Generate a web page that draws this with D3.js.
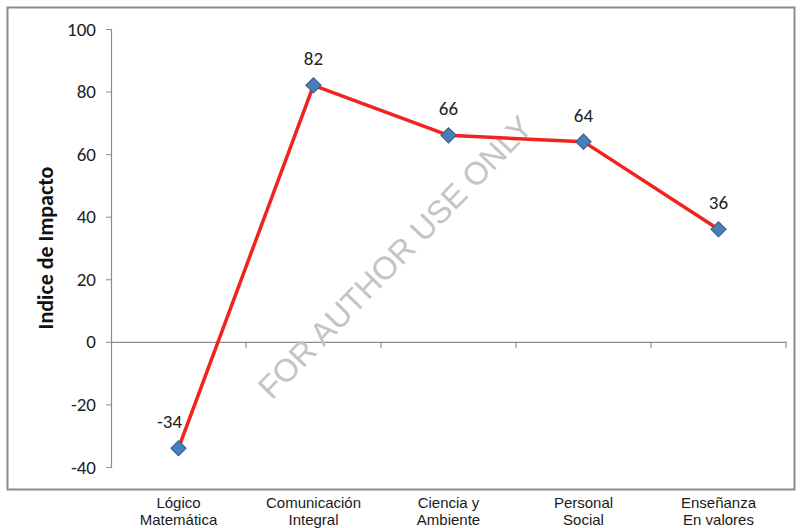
<!DOCTYPE html>
<html>
<head>
<meta charset="utf-8">
<script src="https://cdn.jsdelivr.net/npm/d3@7"></script>
<style>
  body { margin: 0; background: #fff; }
  svg { display: block; }
</style>
</head>
<body>
<svg id="chart" width="800" height="528"></svg>
<script>
// Impact index per learning area
const categories = [
  ["Lógico", "Matemática"],
  ["Comunicación", "Integral"],
  ["Ciencia y", "Ambiente"],
  ["Personal", "Social"],
  ["Enseñanza", "En valores"]
];
const values = [-34, 82, 66, 64, 36];
const yTicks = [-40, -20, 0, 20, 40, 60, 80, 100];
const yTitle = "Indice de Impacto";
const watermark = "FOR AUTHOR USE ONLY";

const svg = d3.select("#chart");
const plot = { left: 111, right: 786, top: 29, bottom: 467 };
const numFont = "Carlito, Calibri, Lato, sans-serif";

const keys = categories.map((c, i) => i);
const x = d3.scaleBand().domain(keys).range([plot.left, plot.right]).padding(0);
const y = d3.scaleLinear().domain([-40, 100]).range([plot.bottom, plot.top]);

// outer frame
svg.append("rect")
  .attr("x", 7.5).attr("y", 7.5)
  .attr("width", 787).attr("height", 482)
  .attr("fill", "none").attr("stroke", "#8c8c8c").attr("stroke-width", 2);

// y axis (plain hyphen for negatives)
const yAxis = d3.axisLeft(y).tickValues(yTicks).tickFormat(d => String(d))
  .tickSize(5).tickPadding(10);
const gy = svg.append("g").attr("transform", `translate(${plot.left},0)`).call(yAxis);
gy.select(".domain").attr("stroke", "#8c8c8c").attr("stroke-width", 1.2);
gy.selectAll(".tick line").attr("stroke", "#8c8c8c");
gy.selectAll(".tick text")
  .attr("font-family", numFont)
  .attr("font-size", 19).attr("fill", "#222");

// x axis along zero
const xAxis = d3.axisBottom(x).tickSize(0).tickFormat("");
const gx = svg.append("g").attr("transform", `translate(0,${y(0)})`).call(xAxis);
gx.select(".domain").attr("stroke", "#8c8c8c").attr("stroke-width", 1.2);
const bounds = keys.map(k => x(k) + x.bandwidth());
gx.selectAll(".bound").data(bounds).enter().append("line")
  .attr("x1", d => d).attr("x2", d => d)
  .attr("y1", 0).attr("y2", 6)
  .attr("stroke", "#8c8c8c").attr("stroke-width", 1.2);

// category labels under the frame
const catG = svg.append("g")
  .attr("font-family", "'Liberation Sans', Arial, sans-serif")
  .attr("font-size", 15).attr("fill", "#1a1a1a").attr("text-anchor", "middle");
categories.forEach((lines, i) => {
  const cx = x(i) + x.bandwidth() / 2;
  lines.forEach((t, j) => {
    catG.append("text").attr("x", cx).attr("y", 508 + j * 17).text(t);
  });
});

// y axis title
svg.append("text")
  .attr("transform", `translate(53,248) rotate(-90)`)
  .attr("text-anchor", "middle")
  .attr("font-family", numFont)
  .attr("font-weight", "bold").attr("font-size", 22).attr("fill", "#111")
  .text(yTitle);

// watermark
svg.append("text")
  .attr("transform", "translate(397,259) rotate(-46)")
  .attr("text-anchor", "middle").attr("dominant-baseline", "middle")
  .attr("font-family", "'Liberation Sans', Arial, sans-serif")
  .attr("font-size", 32).attr("fill", "#c4c4c4")
  .text(watermark);

// line series
const cx = i => x(i) + x.bandwidth() / 2;
const line = d3.line().x((d, i) => cx(i)).y(d => y(d));
svg.append("path").datum(values)
  .attr("d", line)
  .attr("fill", "none").attr("stroke", "#f0241c").attr("stroke-width", 3.5)
  .attr("stroke-linejoin", "round");

// diamond markers
const diamond = d3.symbol().type(d3.symbolSquare).size(115);
svg.selectAll(".pt").data(values).enter().append("path")
  .attr("d", diamond)
  .attr("transform", (d, i) => `translate(${cx(i)},${y(d)}) rotate(45)`)
  .attr("fill", "#4a7ebb").attr("stroke", "#2f5a8c").attr("stroke-width", 1);

// value labels (the negative one sits up and to the left of its point)
svg.selectAll(".lbl").data(values).enter().append("text")
  .attr("x", (d, i) => cx(i) + (d < 0 ? -9 : 0))
  .attr("y", d => y(d) - 20)
  .attr("text-anchor", "middle")
  .attr("font-family", numFont)
  .attr("font-size", 19).attr("fill", "#222")
  .text(d => String(d));
</script>
</body>
</html>
